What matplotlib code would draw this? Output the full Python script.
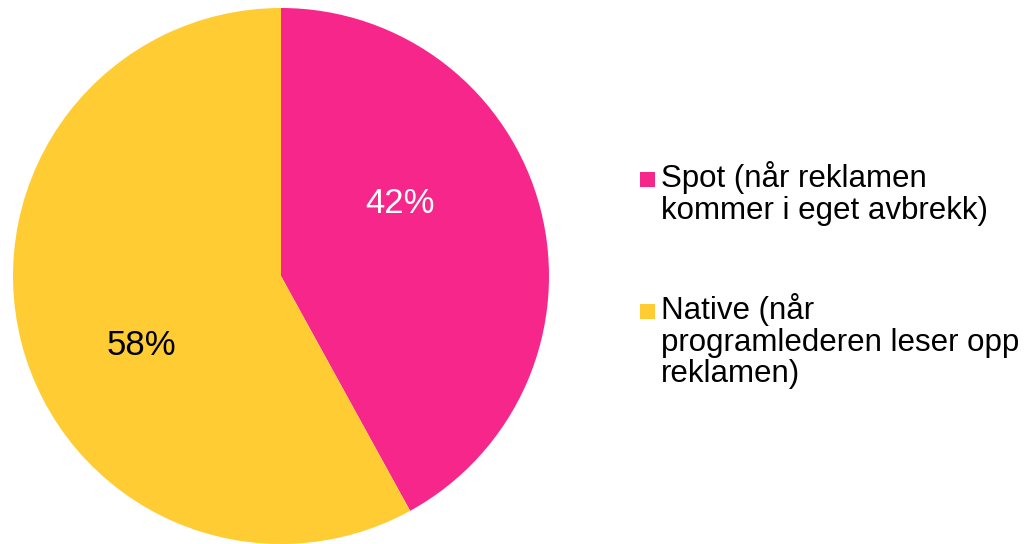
import matplotlib
matplotlib.use("Agg")
import matplotlib.pyplot as plt
from matplotlib.patches import Rectangle

categories = ["Spot (når reklamen\nkommer i eget avbrekk)",
              "Native (når\nprogramlederen leser opp\nreklamen)"]
shares = [42, 58]
colors = ["#F7268A", "#FFCC33"]
label_colors = ["white", "black"]

plt.rcParams["font.family"] = ["Liberation Sans", "DejaVu Sans"]

W, H = 1035, 544
fig = plt.figure(figsize=(W / 100, H / 100), dpi=100)
fig.patch.set_facecolor("white")

# pie axes: centre (281, 276) px from top-left, radius 268 px
cx, cy, r = 281, H - 276, 268
ax = fig.add_axes([(cx - r) / W, (cy - r) / H, 2 * r / W, 2 * r / H])
ax.pie(shares, colors=colors, startangle=90, counterclock=False, radius=1,
       wedgeprops=dict(linewidth=0))
ax.set_xlim(-1, 1)
ax.set_ylim(-1, 1)
ax.set_aspect("equal")
ax.axis("off")

# percentage labels inside the wedges
label_pos = [(0.445, 0.27), (-0.52, -0.26)]
for v, (lx, ly), c in zip(shares, label_pos, label_colors):
    ax.text(lx, ly, f"{v}%", color=c, fontsize=25, ha="center", va="center")

# legend: coloured squares with wrapped labels, one text per line
first_baselines = [187, 319]
step = 31.5
for cat, col, base in zip(categories, colors, first_baselines):
    fig.patches.append(Rectangle((640 / W, (H - base) / H), 15 / W, 15 / H,
                                 transform=fig.transFigure, facecolor=col,
                                 edgecolor="none"))
    for i, line in enumerate(cat.split("\n")):
        fig.text(661 / W, (H - base - i * step) / H, line, fontsize=22.5,
                 ha="left", va="baseline", color="black")

fig.savefig("out.png", dpi=100)
